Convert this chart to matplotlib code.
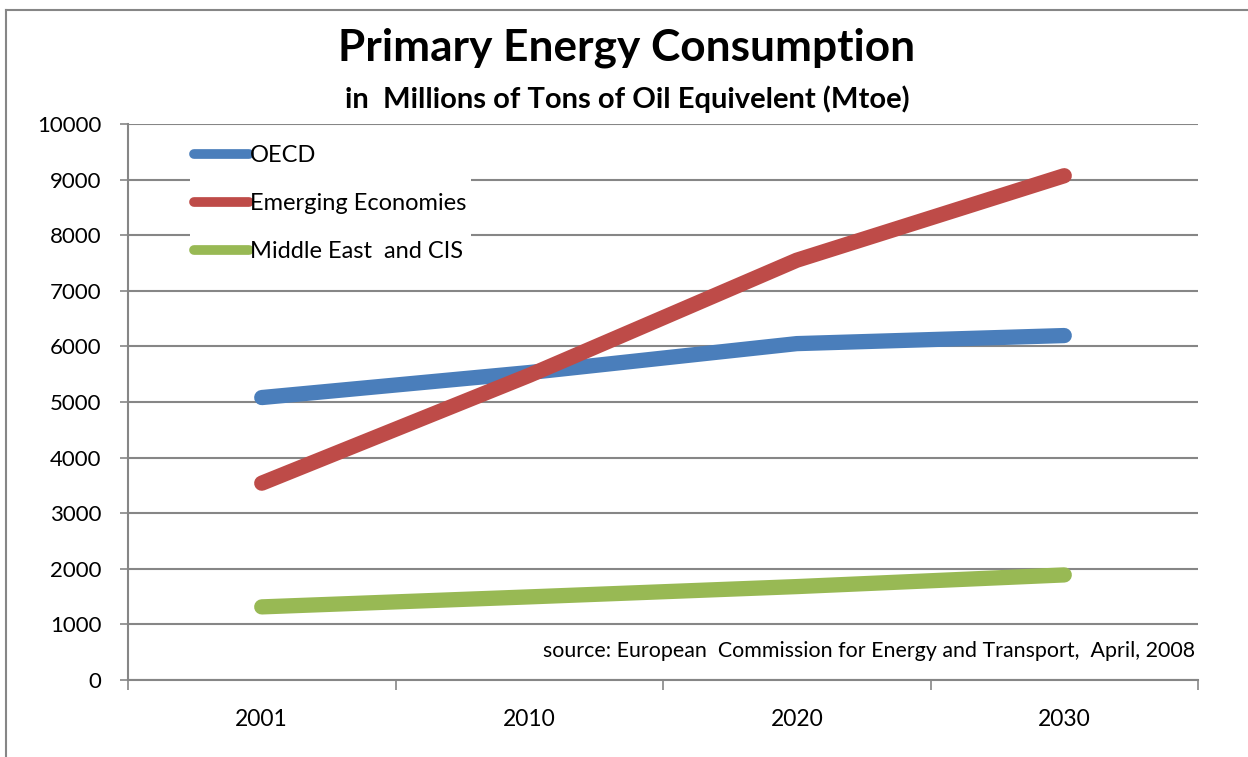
import matplotlib.pyplot as plt
import numpy as np
from matplotlib.lines import Line2D

# data
years = ['2001', '2010', '2020', '2030']
oecd = [5080, 5530, 6050, 6195]
emerging = [3540, 5480, 7550, 9070]
mideast_cis = [1315, 1495, 1680, 1890]

series_names = ['OECD', 'Emerging Economies', 'Middle East  and CIS']
colors = ['#4A7EBB', '#BE4B48', '#98B954']
grid_col = '#868686'

plt.rcParams['font.family'] = ['Lato', 'DejaVu Sans']

fig = plt.figure(figsize=(12.48, 7.57), dpi=100)
ax = fig.add_axes([128/1248, 1-680/757, 1070/1248, 556/757])

x = np.arange(len(years))
for vals, name, c in zip([oecd, emerging, mideast_cis], series_names, colors):
	ax.plot(x, vals, color=c, lw=11, solid_capstyle='round', solid_joinstyle='round', label=name, zorder=3)

ax.set_xlim(-0.5, len(years)-0.5)
ax.set_ylim(0, 10000)
ax.set_yticks(np.arange(0, 10001, 1000))
ax.tick_params(axis='y', labelsize=16, length=6, width=1.2, color=grid_col, pad=13, direction='out')

# category boundaries get the tick marks, labels sit between them
ax.set_xticks(np.arange(-0.5, len(years), 1))
ax.set_xticklabels([])
ax.set_xticks(x, minor=True)
ax.set_xticklabels(years, minor=True)
ax.tick_params(axis='x', which='major', length=7, width=1.2, color=grid_col, direction='out')
ax.tick_params(axis='x', which='minor', length=0, labelsize=16.5, pad=21)

ax.grid(axis='y', color=grid_col, lw=1.5, zorder=0)
ax.set_axisbelow(True)
for s in ['top', 'right']:
	ax.spines[s].set_visible(False)
for s in ['left', 'bottom']:
	ax.spines[s].set_color(grid_col)
	ax.spines[s].set_linewidth(1.5)

leg = ax.legend(loc='upper left', bbox_to_anchor=(0.0466, 0.992), fontsize=17, frameon=True,
	facecolor='white', edgecolor='none', framealpha=1, handlelength=2.3, handletextpad=0.05,
	labelspacing=1.14, borderpad=0.2, fancybox=False)
leg.get_frame().set_width(leg.get_frame().get_width())
for h in leg.get_lines():
	h.set_linewidth(7)
	h.set_solid_capstyle('round')

ax.text(0.997, 0.052, 'source: European  Commission for Energy and Transport,  April, 2008',
	transform=ax.transAxes, ha='right', va='center', fontsize=15.4)

fig.text(627/1248, 1-48/757, 'Primary Energy Consumption', ha='center', va='center',
	fontsize=31.8, fontweight='bold')
fig.text(627/1248, 1-99/757, 'in  Millions of Tons of Oil Equivelent (Mtoe)', ha='center', va='center',
	fontsize=21, fontweight='bold')

# outer chart border (top and left edges visible in the crop)
fig.add_artist(Line2D([6/1248, 6/1248], [0, 1-10/757], color=grid_col, lw=1.5, transform=fig.transFigure))
fig.add_artist(Line2D([6/1248, 1], [1-10/757, 1-10/757], color=grid_col, lw=1.5, transform=fig.transFigure))

fig.savefig('out.png', dpi=100)
